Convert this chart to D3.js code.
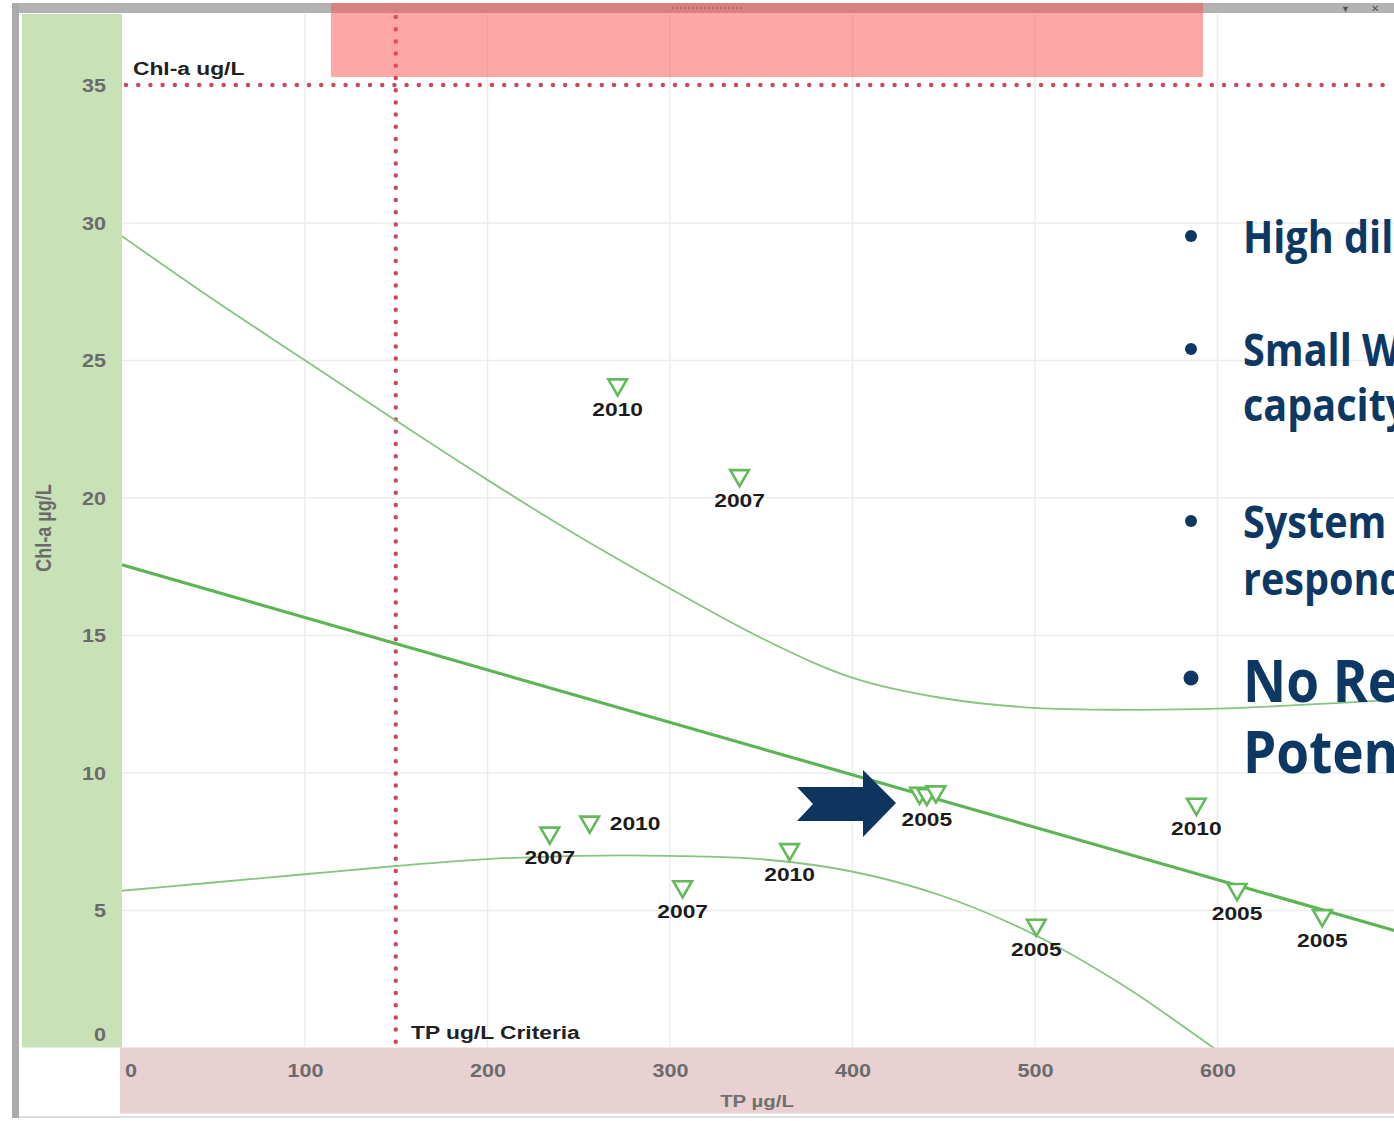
<!DOCTYPE html>
<html>
<head>
<meta charset="utf-8">
<script src="https://cdn.jsdelivr.net/npm/d3@7"></script>
<style>
body { margin: 0; background: #fff; overflow: hidden; }
text { font-family: "Liberation Sans", Arial, sans-serif; }
</style>
</head>
<body>
<div id="chart"></div>
<script>
// values
var yearLabels = ["2010", "2007", "2007", "2010", "2007", "2010", "2005", "2005", "2005", "2010", "2005", "2005", "2005"];
var tpValues   = [271.6, 338.4, 234.4, 256.3, 307.2, 365.8, 437, 441, 446, 588.7, 501, 611, 657.7];
var chlValues  = [24.1, 20.8, 7.8, 8.2, 5.85, 7.2, 9.25, 9.2, 9.3, 8.85, 4.45, 5.75, 4.8];

var fitTP  = [0, 700];
var fitChl = [17.55, 4.2];

var upperTP  = [0, 50, 100, 150, 200, 250, 300, 350, 400, 450, 500, 550, 600, 700];
var upperChl = [29.5, 27.2, 25.0, 22.8, 20.65, 18.6, 16.7, 14.9, 13.45, 12.7, 12.35, 12.28, 12.32, 12.65];

var lowerTP  = [0, 50, 100, 150, 200, 250, 300, 350, 400, 450, 500, 550, 600, 620];
var lowerChl = [5.7, 6.0, 6.3, 6.6, 6.85, 6.97, 6.97, 6.85, 6.4, 5.5, 4.1, 2.2, -0.1, -1.0];

var xTicks = [0, 100, 200, 300, 400, 500, 600];
var yTicks = [0, 5, 10, 15, 20, 25, 30, 35];

var tpCriteria = 150;
var chlCriteria = 35;

var bullets = [["High dil"], ["Small W", "capacity"], ["System", "respond"], ["No Re", "Poten"]];

var W = 1394, H = 1121;
var svg = d3.select("#chart").append("svg")
    .attr("width", W)
    .attr("height", H);

var x = d3.scaleLinear().domain([0, 700]).range([122, 1399.5]);
var y = d3.scaleLinear().domain([0, 35]).range([1047.5, 85]);
var plotTop = 14, plotBottom = y(0), plotLeft = x(0);

function label(parent, txt, px, py, anchor, size, color) {
    return parent.append("text")
        .attr("transform", "translate(" + px + "," + py + ") scale(1.2,1)")
        .attr("text-anchor", anchor)
        .style("font-size", size + "px")
        .style("font-weight", "bold")
        .attr("fill", color)
        .text(txt);
}

// frame
svg.append("rect").attr("width", W).attr("height", H).attr("fill", "#fff");
svg.append("rect").attr("x", 12).attr("y", 3).attr("width", W - 12).attr("height", 10).attr("fill", "#b3b3b3");
svg.append("rect").attr("x", 12).attr("y", 3).attr("width", 7).attr("height", 1115).attr("fill", "#ababab");
svg.append("rect").attr("x", 19).attr("y", 1116).attr("width", W - 19).attr("height", 2).attr("fill", "#dedede");
svg.append("line").attr("x1", 672).attr("x2", 742).attr("y1", 8).attr("y2", 8)
    .attr("stroke", "#666").attr("stroke-width", 1.5).attr("stroke-dasharray", "1.5,2.5");
svg.append("text").attr("x", 1341).attr("y", 12).style("font-size", "9px").attr("fill", "#555").text("\u25BC");
svg.append("text").attr("x", 1371).attr("y", 12).style("font-size", "10px").attr("fill", "#555").text("\u2715");

// axis bands
svg.append("rect").attr("x", 22).attr("y", plotTop).attr("width", plotLeft - 22).attr("height", plotBottom - plotTop)
    .attr("fill", "#c8e1b7");
svg.append("rect").attr("x", 120).attr("y", plotBottom).attr("width", W - 120).attr("height", 66)
    .attr("fill", "#e9d0d2");

// grid
var grid = svg.append("g");
grid.append("g")
    .attr("transform", "translate(0," + plotBottom + ")")
    .call(d3.axisBottom(x).tickValues(xTicks.slice(1)).tickSize(-(plotBottom - plotTop)).tickFormat(""))
    .call(function(g) { g.select(".domain").remove(); });
grid.append("g")
    .attr("transform", "translate(" + plotLeft + ",0)")
    .call(d3.axisLeft(y).tickValues(yTicks.slice(1, -1)).tickSize(-(W - plotLeft)).tickFormat(""))
    .call(function(g) { g.select(".domain").remove(); });
grid.selectAll("line").attr("stroke", "#ececec").attr("stroke-width", 1.5);

// criteria lines
svg.append("line")
    .attr("x1", plotLeft + 4).attr("x2", W)
    .attr("y1", y(chlCriteria)).attr("y2", y(chlCriteria))
    .attr("stroke", "#c94a5c").attr("stroke-width", 4.5)
    .attr("stroke-linecap", "round").attr("stroke-dasharray", "0,12.2");
svg.append("line")
    .attr("x1", x(tpCriteria)).attr("x2", x(tpCriteria))
    .attr("y1", plotTop + 3).attr("y2", plotBottom)
    .attr("stroke", "#c94a5c").attr("stroke-width", 4.5)
    .attr("stroke-linecap", "round").attr("stroke-dasharray", "0,12.2");

// regression and bands
svg.append("clipPath").attr("id", "plotclip")
    .append("rect").attr("x", plotLeft).attr("y", plotTop)
    .attr("width", W - plotLeft).attr("height", plotBottom - plotTop);
var plot = svg.append("g").attr("clip-path", "url(#plotclip)");

var line = d3.line()
    .x(function(d) { return x(d[0]); })
    .y(function(d) { return y(d[1]); })
    .curve(d3.curveCatmullRom.alpha(0.5));

plot.append("path").datum(d3.zip(upperTP, upperChl))
    .attr("d", line).attr("fill", "none").attr("stroke", "#86c47f").attr("stroke-width", 1.8);
plot.append("path").datum(d3.zip(lowerTP, lowerChl))
    .attr("d", line).attr("fill", "none").attr("stroke", "#86c47f").attr("stroke-width", 1.8);
plot.append("path").datum(d3.zip(fitTP, fitChl))
    .attr("d", line).attr("fill", "none").attr("stroke", "#5cb553").attr("stroke-width", 3.2);

// points
var points = d3.range(tpValues.length).map(function(i) {
    return { tp: tpValues[i], chl: chlValues[i], year: yearLabels[i], i: i };
});
var skipLabel = [6, 8];
var rightLabel = [3];

plot.selectAll("path.pt")
    .data(points)
    .enter().append("path")
    .attr("class", "pt")
    .attr("d", d3.symbol().type(d3.symbolTriangle).size(150))
    .attr("transform", function(d) { return "translate(" + x(d.tp) + "," + y(d.chl) + ") rotate(180)"; })
    .attr("fill", "#fff")
    .attr("stroke", "#62ba5a")
    .attr("stroke-width", 2.6);

points.forEach(function(d) {
    if (skipLabel.indexOf(d.i) >= 0) return;
    if (rightLabel.indexOf(d.i) >= 0) {
        label(svg, d.year, x(d.tp) + 20, y(d.chl) + 8, "start", 19, "#1c1c1c");
    } else {
        label(svg, d.year, x(d.tp), y(d.chl) + 31, "middle", 19, "#1c1c1c");
    }
});

// tick labels
yTicks.forEach(function(t) {
    label(svg, t, 106, y(t) + 7 - (t === 0 ? 14 : 0), "end", 18, "#6b6b6b");
});
xTicks.forEach(function(t) {
    label(svg, t, x(t) + (t === 0 ? 9 : 1), plotBottom + 29, "middle", 18, "#6b6b6b");
});

label(svg, "Chl-a ug/L", 133, 75, "start", 19, "#222");
label(svg, "TP ug/L Criteria", 411, 1039, "start", 19, "#222");
label(svg, "TP \u00b5g/L", 757, 1107, "middle", 17, "#707070");
svg.append("text")
    .attr("transform", "translate(51,528) scale(1.2,1) rotate(-90)")
    .attr("text-anchor", "middle")
    .style("font-size", "18px")
    .style("font-weight", "bold")
    .attr("fill", "#6a6a6a")
    .text("Chl-a \u00b5g/L");

// pink highlight box over the title bar
svg.append("rect").attr("x", 331).attr("y", 3).attr("width", 872).attr("height", 74)
    .attr("fill", "#ff4d4d").attr("opacity", 0.5);

// arrow
svg.append("path")
    .attr("d", "M797,787 L863,787 L863,770 L896,803 L863,837 L863,821 L797,821 L813,804 Z")
    .attr("fill", "#0d3560");

// slide bullets
var navy = "#0d3864";
var rowTop = [253, 366, 538, 702];
var rowSize = [44, 44, 44, 59];
var rowGap = [0, 55, 57, 71];
bullets.forEach(function(lines, i) {
    var t = svg.append("text")
        .attr("transform", "translate(1243," + rowTop[i] + ") scale(0.9,1)")
        .style("font-family", "'Open Sans', sans-serif")
        .style("font-size", rowSize[i] + "px")
        .style("font-weight", "bold")
        .attr("fill", navy);
    lines.forEach(function(s, j) {
        t.append("tspan").attr("x", 0).attr("y", j * rowGap[i]).text(s);
    });
    svg.append("circle")
        .attr("cx", 1191)
        .attr("cy", rowTop[i] - (rowSize[i] > 50 ? 24 : 17))
        .attr("r", rowSize[i] > 50 ? 7.5 : 6)
        .attr("fill", navy);
});
</script>
</body>
</html>
